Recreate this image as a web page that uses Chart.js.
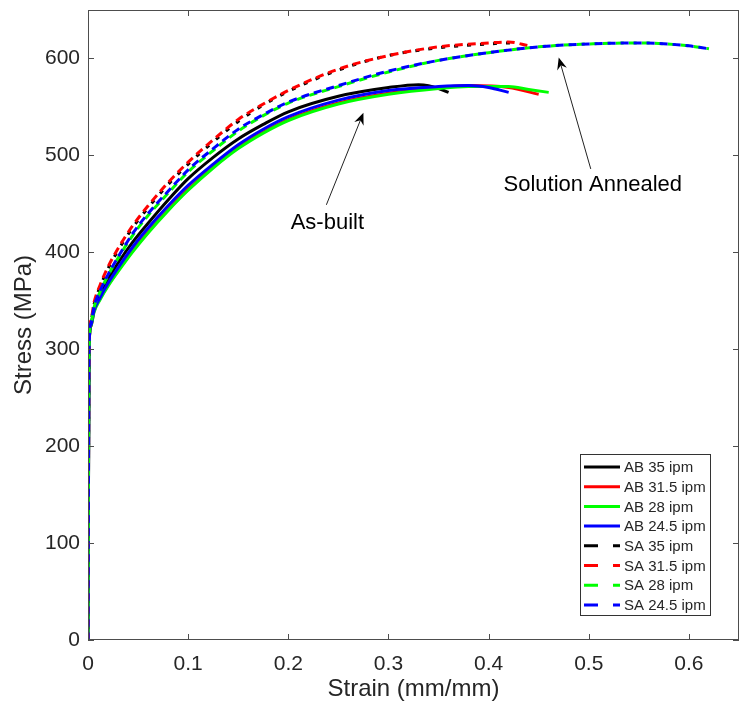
<!DOCTYPE html>
<html>
<head>
<meta charset="utf-8">
<script src="https://cdn.jsdelivr.net/npm/chart.js@4.4.0/dist/chart.umd.min.js"></script>
<style>
	html, body { margin: 0; padding: 0; background: #fff; }
</style>
</head>
<body>
<canvas id="myChart" width="748" height="708"></canvas>
<script>
// tick labels
const xTicks = [0, 0.1, 0.2, 0.3, 0.4, 0.5, 0.6];
const yTicks = [0, 100, 200, 300, 400, 500, 600];

// as-built (solid)
const ab35Strain = [0, 0.001, 0.003, 0.006, 0.012, 0.02, 0.03, 0.045, 0.06, 0.08, 0.1, 0.125, 0.15, 0.175, 0.2, 0.25, 0.3, 0.33, 0.34, 0.35, 0.36];
const ab35Stress = [0, 300, 326, 341, 356, 372, 389, 411, 430, 454, 476, 498, 517, 532, 545, 561, 570, 573, 572, 569, 565];
const ab315Strain = [0, 0.001, 0.003, 0.006, 0.012, 0.02, 0.03, 0.045, 0.06, 0.08, 0.1, 0.125, 0.15, 0.175, 0.2, 0.25, 0.3, 0.35, 0.38, 0.42, 0.45];
const ab315Stress = [0, 300, 324, 339, 352, 366, 381, 402, 421, 444, 465, 488, 508, 524, 537, 554, 564, 570, 572, 570, 563];
const ab28Strain = [0, 0.001, 0.003, 0.006, 0.012, 0.02, 0.03, 0.045, 0.06, 0.08, 0.1, 0.125, 0.15, 0.175, 0.2, 0.25, 0.3, 0.35, 0.38, 0.42, 0.44, 0.46];
const ab28Stress = [0, 300, 324, 338, 351, 365, 380, 401, 420, 443, 464, 487, 507, 523, 536, 553, 563, 569, 571, 571, 568, 565];
const ab245Strain = [0, 0.001, 0.003, 0.006, 0.012, 0.02, 0.03, 0.045, 0.06, 0.08, 0.1, 0.125, 0.15, 0.175, 0.2, 0.25, 0.3, 0.35, 0.38, 0.4, 0.42];
const ab245Stress = [0, 300, 325, 340, 353, 368, 384, 406, 425, 448, 469, 491, 511, 527, 540, 557, 567, 571, 572, 570, 565];

// solution annealed (dashed)
const sa35Strain = [0, 0.001, 0.003, 0.006, 0.012, 0.02, 0.03, 0.045, 0.06, 0.08, 0.1, 0.125, 0.15, 0.175, 0.2, 0.25, 0.3, 0.35, 0.4, 0.42, 0.43];
const sa35Stress = [0, 300, 329, 346, 364, 383, 402, 426, 446, 470, 491, 514, 535, 552, 566, 588, 603, 611, 615, 616, 615];
const sa315Strain = [0, 0.001, 0.003, 0.006, 0.012, 0.02, 0.03, 0.045, 0.06, 0.08, 0.1, 0.125, 0.15, 0.175, 0.2, 0.25, 0.3, 0.35, 0.4, 0.42, 0.44];
const sa315Stress = [0, 300, 330, 348, 366, 385, 404, 428, 448, 472, 493, 516, 537, 553, 567, 589, 603, 612, 616, 617, 613];
const sa28Strain = [0, 0.001, 0.003, 0.006, 0.012, 0.02, 0.03, 0.045, 0.06, 0.08, 0.1, 0.125, 0.15, 0.175, 0.2, 0.25, 0.3, 0.35, 0.4, 0.45, 0.5, 0.55, 0.6, 0.62];
const sa28Stress = [0, 300, 327, 343, 359, 376, 394, 418, 438, 461, 483, 505, 525, 541, 554, 571, 586, 598, 606, 612, 615, 616, 613, 610];
const sa245Strain = [0, 0.001, 0.003, 0.006, 0.012, 0.02, 0.03, 0.045, 0.06, 0.08, 0.1, 0.125, 0.15, 0.175, 0.2, 0.25, 0.3, 0.35, 0.4, 0.45, 0.5, 0.55, 0.6, 0.62];
const sa245Stress = [0, 300, 327, 344, 360, 377, 395, 420, 440, 463, 485, 507, 527, 542, 555, 572, 587, 598, 606, 612, 615, 616, 613, 610];

const labels = ["AB 35 ipm", "AB 31.5 ipm", "AB 28 ipm", "AB 24.5 ipm", "SA 35 ipm", "SA 31.5 ipm", "SA 28 ipm", "SA 24.5 ipm"];
const colors = ["#000000", "#ff0000", "#00ff00", "#0000ff", "#000000", "#ff0000", "#00ff00", "#0000ff"];
const strains = [ab35Strain, ab315Strain, ab28Strain, ab245Strain, sa35Strain, sa315Strain, sa28Strain, sa245Strain];
const stresses = [ab35Stress, ab315Stress, ab28Stress, ab245Stress, sa35Stress, sa315Stress, sa28Stress, sa245Stress];

// annotations: text position and arrow tail -> head, in data units
const noteText = ["As-built", "Solution Annealed"];
const noteAt = [[0.239, 430], [0.504, 469]];
const arrowFrom = [[0.238, 449], [0.502, 486]];
const arrowTo = [[0.275, 544], [0.470, 601]];

const font = '"Liberation Sans", Arial, Helvetica, sans-serif';
const dashes = [[], [], [], [], [4, 9], [8, 5], [8, 5], [8, 5]];
const dashOffsets = [0, 0, 0, 0, 2, 0, 6, 0];

const datasets = labels.map((lab, i) => ({
	label: lab,
	data: strains[i].map((s, k) => ({ x: s, y: stresses[i][k] })),
	borderColor: colors[i],
	backgroundColor: colors[i],
	borderWidth: 3,
	borderDash: dashes[i],
	borderDashOffset: dashOffsets[i],
	pointRadius: 0,
	fill: false,
	cubicInterpolationMode: "monotone",
	order: -i, // later series on top, like the original plot
}));

function drawLine(ctx, x1, y1, x2, y2) {
	ctx.beginPath();
	ctx.moveTo(x1, y1);
	ctx.lineTo(x2, y2);
	ctx.stroke();
}

const extras = {
	id: "extras",
	afterDraw(chart) {
		const ctx = chart.ctx;
		const a = chart.chartArea;
		const xs = chart.scales.x;
		const ys = chart.scales.y;
		ctx.save();

		// axes box + inward ticks
		ctx.strokeStyle = "#4d4d4d";
		ctx.lineWidth = 1;
		ctx.setLineDash([]);
		ctx.strokeRect(a.left + 0.5, a.top + 0.5, a.right - a.left - 1, a.bottom - a.top - 1);
		xTicks.forEach((v) => {
			const px = Math.round(xs.getPixelForValue(v)) + 0.5;
			drawLine(ctx, px, a.bottom, px, a.bottom - 6);
			drawLine(ctx, px, a.top, px, a.top + 6);
		});
		yTicks.forEach((v) => {
			const py = Math.round(ys.getPixelForValue(v)) + 0.5;
			drawLine(ctx, a.left, py, a.left + 6, py);
			drawLine(ctx, a.right, py, a.right - 6, py);
		});

		// text arrows
		ctx.fillStyle = "#000";
		ctx.strokeStyle = "#222";
		ctx.font = "22px " + font;
		ctx.textAlign = "center";
		ctx.textBaseline = "middle";
		for (let i = 0; i < noteText.length; i++) {
			ctx.fillText(noteText[i], xs.getPixelForValue(noteAt[i][0]), ys.getPixelForValue(noteAt[i][1]));
			const x1 = xs.getPixelForValue(arrowFrom[i][0]);
			const y1 = ys.getPixelForValue(arrowFrom[i][1]);
			const x2 = xs.getPixelForValue(arrowTo[i][0]);
			const y2 = ys.getPixelForValue(arrowTo[i][1]);
			const ang = Math.atan2(y2 - y1, x2 - x1);
			drawLine(ctx, x1, y1, x2 - 6 * Math.cos(ang), y2 - 6 * Math.sin(ang));
			ctx.beginPath();
			ctx.moveTo(x2, y2);
			ctx.lineTo(x2 - 12 * Math.cos(ang) + 5 * Math.sin(ang), y2 - 12 * Math.sin(ang) - 5 * Math.cos(ang));
			ctx.lineTo(x2 - 8 * Math.cos(ang), y2 - 8 * Math.sin(ang));
			ctx.lineTo(x2 - 12 * Math.cos(ang) - 5 * Math.sin(ang), y2 - 12 * Math.sin(ang) + 5 * Math.cos(ang));
			ctx.closePath();
			ctx.fill();
		}

		// legend
		const bx = a.right - 159;
		const by = a.bottom - 186;
		const bw = 130;
		const bh = 161;
		ctx.fillStyle = "#fff";
		ctx.fillRect(bx, by, bw, bh);
		ctx.strokeStyle = "#333";
		ctx.lineWidth = 1;
		ctx.strokeRect(bx + 0.5, by + 0.5, bw, bh);
		ctx.font = "15px " + font;
		ctx.textAlign = "left";
		ctx.textBaseline = "middle";
		chart.data.datasets.forEach((ds, i) => {
			const ry = by + 13 + i * 19.7;
			ctx.strokeStyle = ds.borderColor;
			ctx.lineWidth = 3;
			ctx.setLineDash(ds.borderDash.length ? [14, 15] : []);
			drawLine(ctx, bx + 4, ry, bx + 40, ry);
			ctx.setLineDash([]);
			ctx.fillStyle = "#262626";
			ctx.fillText(ds.label, bx + 44, ry + 1);
		});

		ctx.restore();
	},
};

const ctx = document.getElementById("myChart").getContext("2d");
const myChart = new Chart(ctx, {
	type: "line",
	data: { datasets: datasets },
	options: {
		responsive: false,
		animation: false,
		devicePixelRatio: 1,
		layout: { padding: { left: 0, top: 10, right: 9, bottom: 0 } },
		plugins: { legend: { display: false }, tooltip: { enabled: false } },
		scales: {
			x: {
				type: "linear",
				min: 0,
				max: 0.65,
				grid: { display: false, drawTicks: false },
				border: { display: false },
				afterBuildTicks: (s) => { s.ticks = xTicks.map((v) => ({ value: v })); },
				afterFit: (s) => { s.height = 68; s.paddingRight = 0; },
				ticks: { padding: 12, color: "#262626", font: { family: font, size: 21 }, maxRotation: 0, callback: (v) => String(v) },
				title: { display: true, text: "Strain (mm/mm)", color: "#262626", font: { family: font, size: 24 }, padding: { top: 0, bottom: 4 } },
			},
			y: {
				min: 0,
				max: 650,
				grid: { display: false, drawTicks: false },
				border: { display: false },
				afterBuildTicks: (s) => { s.ticks = yTicks.map((v) => ({ value: v })); },
				afterFit: (s) => { s.width = 88; s.paddingTop = 0; s.paddingBottom = 0; },
				ticks: { padding: 8, color: "#262626", font: { family: font, size: 21 } },
				title: { display: true, text: "Stress (MPa)", color: "#262626", font: { family: font, size: 24 }, padding: { top: 10, bottom: 0 } },
			},
		},
	},
	plugins: [extras],
});
</script>
</body>
</html>
